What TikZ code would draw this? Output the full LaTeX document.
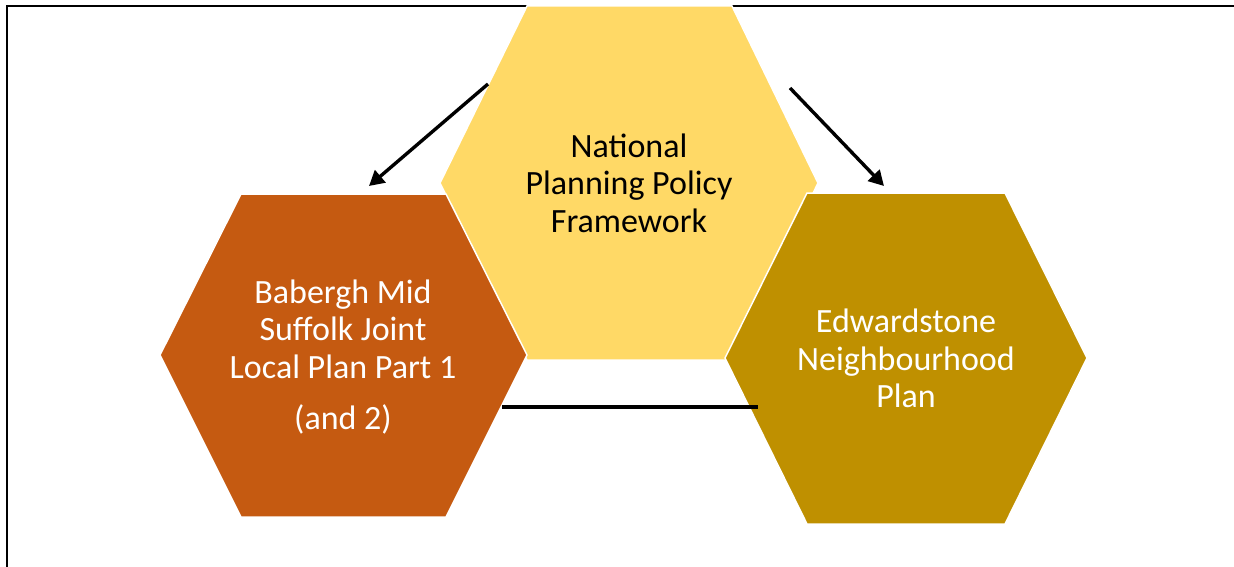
\documentclass[tikz,border=0pt]{standalone}
\usepackage{fontspec}
\setmainfont{Carlito}
\usetikzlibrary{arrows.meta}
\definecolor{hexorange}{HTML}{C55A11}
\definecolor{hexyellow}{HTML}{FFD966}
\definecolor{hexgold}{HTML}{BF9000}
\begin{document}
\begin{tikzpicture}[x=1pt,y=-1pt,
  hexshape/.style={draw=white, line width=1.5pt, line join=miter},
  hexlabel/.style={align=center, font=\fontsize{34}{37.5}\selectfont, inner sep=0pt},
  conn/.style={line width=3.4pt, -{Triangle[length=15pt,width=16pt]}},
  plainline/.style={line width=3.5pt}]
\useasboundingbox (0,0) rectangle (1234,567);
\draw[line width=2pt] (7,567) -- (7,6) -- (1234,6);

% centre hexagon
\filldraw[hexshape, fill=hexyellow] (527,6) -- (732,6) -- (818,183) -- (732,360) -- (527,360) -- (440,183) -- cycle;
% left hexagon
\filldraw[hexshape, fill=hexorange] (241,194) -- (446,194) -- (527,355) -- (446,517) -- (241,517) -- (160,355) -- cycle;
% right hexagon
\filldraw[hexshape, fill=hexgold] (807,193) -- (1005,193) -- (1087,358) -- (1005,524) -- (807,524) -- (725,358) -- cycle;

\node[hexlabel, text=black] (nppf) at (629,183) {National\\Planning Policy\\Framework};
\node[hexlabel, text=white] (local) at (343,357) {Babergh Mid\\Suffolk Joint\\Local Plan Part 1\\[14pt](and 2)};
\node[hexlabel, text=white] (neigh) at (906,358.5) {Edwardstone\\Neighbourhood\\Plan};

\coordinate (a1s) at (488,84);
\coordinate (a1e) at (369,186);
\coordinate (a2s) at (790,88);
\coordinate (a2e) at (884,186);
\coordinate (ls) at (502,407);
\coordinate (le) at (758,407);

\draw[conn] (a1s) -- (a1e);
\draw[conn] (a2s) -- (a2e);
\draw[plainline] (ls) -- (le);
\end{tikzpicture}
\end{document}
